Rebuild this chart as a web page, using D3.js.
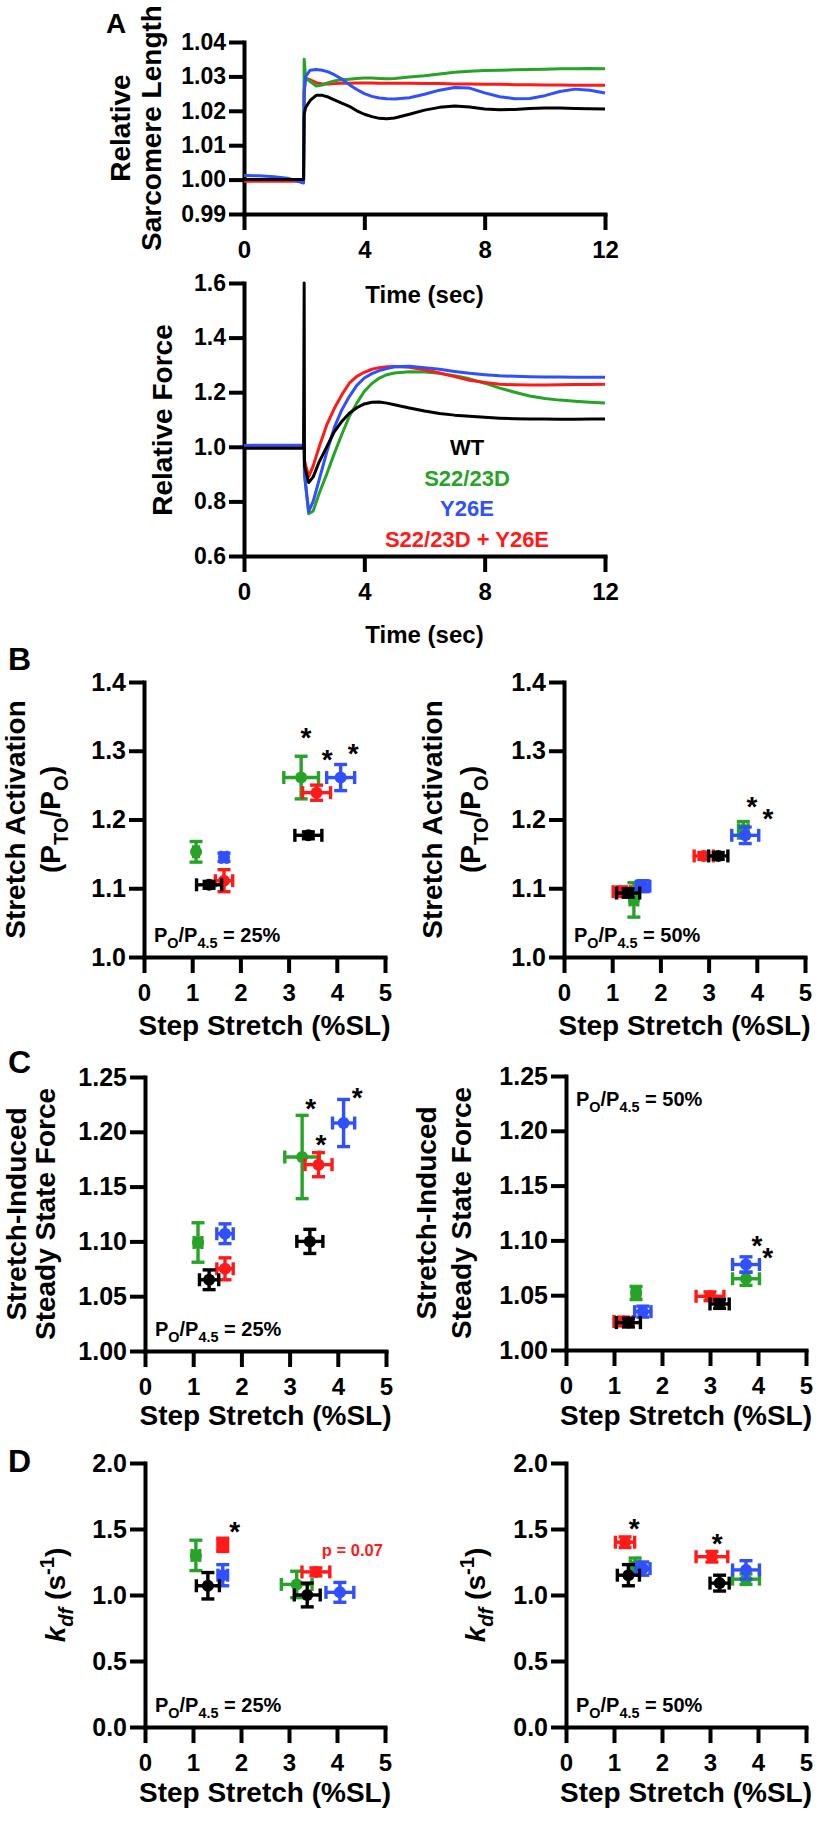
<!DOCTYPE html>
<html><head><meta charset="utf-8">
<script src="https://cdn.jsdelivr.net/npm/d3@7"></script>
<style>
body{margin:0;background:#fff;}
svg{display:block;}
</style></head><body>
<svg id="fig" width="819" height="1836"></svg>
<script>
// ---------------- DATA ----------------
const groups = ["WT", "S22/23D", "Y26E", "S22/23D + Y26E"];

// Panel A (top): relative sarcomere length traces
const slTime  = [0,0.5,1,1.5,1.98,2.0,2.05,2.2,2.4,2.6,2.8,3.0,3.25,3.5,3.75,4.0,4.25,4.5,4.75,5.0,5.5,6.0,6.5,7.0,7.5,8.0,8.5,9.0,9.5,10.0,10.5,11.0,11.5,12.0];
const slWT    = [1.000,1.000,1.000,1.000,1.000,1.019,1.021,1.023,1.0245,1.0245,1.024,1.0232,1.0222,1.0213,1.0200,1.0190,1.0183,1.0178,1.0177,1.0179,1.0190,1.0202,1.0210,1.0214,1.0211,1.0205,1.0203,1.0204,1.0207,1.0208,1.0208,1.0207,1.0206,1.0205];
const slS2223D= [1.000,1.000,1.000,1.000,1.000,1.035,1.0295,1.0285,1.0272,1.0275,1.0282,1.0287,1.0290,1.0292,1.0294,1.0295,1.0295,1.0294,1.0293,1.0294,1.0298,1.0302,1.0307,1.0312,1.0315,1.0317,1.0318,1.0319,1.0320,1.0321,1.0322,1.0322,1.0323,1.0322];
const slY26E  = [1.0012,1.0011,1.0008,1.0003,0.9990,1.025,1.030,1.0318,1.0320,1.0318,1.0313,1.0305,1.0292,1.0276,1.0262,1.0250,1.0242,1.0237,1.0235,1.0234,1.0238,1.0248,1.0260,1.0268,1.0266,1.0252,1.0241,1.0235,1.0236,1.0244,1.0256,1.0263,1.0260,1.0252];
const slCombo = [0.9995,0.9995,0.9995,0.9995,0.9995,1.026,1.0295,1.0290,1.0282,1.0278,1.0278,1.0279,1.0280,1.0280,1.0281,1.0281,1.0281,1.0280,1.0280,1.0280,1.0280,1.0279,1.0279,1.0278,1.0278,1.0277,1.0277,1.0276,1.0276,1.0275,1.0275,1.0274,1.0274,1.0274];

// Panel A (bottom): relative force traces
const fTime   = [0,0.5,1,1.5,1.98,2.0,2.01,2.15,2.3,2.5,2.75,3.0,3.25,3.5,3.75,4.0,4.25,4.5,4.75,5.0,5.5,6.0,6.5,7.0,7.5,8.0,8.5,9.0,9.5,10.0,10.5,11.0,11.5,12.0];
const fWT     = [0.995,0.995,0.995,0.995,0.995,1.6,0.93,0.869,0.89,0.945,1.0,1.055,1.093,1.123,1.143,1.157,1.163,1.164,1.16,1.154,1.142,1.131,1.122,1.116,1.112,1.108,1.105,1.103,1.102,1.102,1.101,1.101,1.102,1.102];
const fS2223D = [0.998,0.998,0.998,0.998,0.998,0.99,0.9,0.755,0.765,0.83,0.9,0.975,1.045,1.111,1.16,1.203,1.232,1.252,1.264,1.27,1.275,1.274,1.269,1.26,1.249,1.233,1.215,1.2,1.186,1.177,1.171,1.167,1.163,1.16];
const fY26E   = [1.005,1.006,1.006,1.006,1.006,1.0,0.9,0.763,0.8,0.88,0.98,1.07,1.135,1.184,1.225,1.252,1.268,1.279,1.287,1.293,1.295,1.29,1.284,1.276,1.269,1.264,1.26,1.258,1.257,1.256,1.256,1.255,1.255,1.255];
const fCombo  = [0.997,0.997,0.997,0.997,0.997,0.99,0.95,0.891,0.93,1.0,1.08,1.14,1.19,1.233,1.258,1.273,1.284,1.29,1.293,1.294,1.291,1.282,1.27,1.257,1.244,1.236,1.229,1.227,1.226,1.226,1.227,1.228,1.228,1.229];

const timeTicks = [0,4,8,12];
const slTicks = [0.99,1.00,1.01,1.02,1.03,1.04];
const forceTicks = [0.6,0.8,1.0,1.2,1.4,1.6];
const stretchTicks = [0,1,2,3,4,5];
const saTicks = [1.0,1.1,1.2,1.3,1.4];
const ssfTicks = [1.00,1.05,1.10,1.15,1.20,1.25];
const kdfTicks = [0.0,0.5,1.0,1.5,2.0];

// Panel B: stretch activation (mean, SEM)
const saP25 = [
  {g:"WT", x:1.35, xe:0.26, y:1.105, ye:0.005},
  {g:"WT", x:3.41, xe:0.28, y:1.177, ye:0.005},
  {g:"S22/23D", x:1.08, xe:0.05, y:1.153, ye:0.015},
  {g:"S22/23D", x:3.26, xe:0.36, y:1.261, ye:0.031},
  {g:"Y26E", x:1.66, xe:0.06, y:1.145, ye:0.006},
  {g:"Y26E", x:4.08, xe:0.29, y:1.261, ye:0.019},
  {g:"S22/23D + Y26E", x:1.66, xe:0.18, y:1.111, ye:0.016},
  {g:"S22/23D + Y26E", x:3.58, xe:0.29, y:1.239, ye:0.011}
];
const saP50 = [
  {g:"WT", x:1.33, xe:0.24, y:1.093, ye:0.006},
  {g:"WT", x:3.2, xe:0.2, y:1.147, ye:0.005},
  {g:"S22/23D", x:1.45, xe:0.08, y:1.083, ye:0.025},
  {g:"S22/23D", x:3.72, xe:0.1, y:1.185, ye:0.012},
  {g:"Y26E", x:1.64, xe:0.14, y:1.103, ye:0.008},
  {g:"Y26E", x:3.76, xe:0.28, y:1.177, ye:0.012},
  {g:"S22/23D + Y26E", x:1.2, xe:0.18, y:1.095, ye:0.007},
  {g:"S22/23D + Y26E", x:2.9, xe:0.2, y:1.147, ye:0.005}
];
// Panel C: stretch-induced steady state force
const ssfP25 = [
  {g:"WT", x:1.33, xe:0.2, y:1.065, ye:0.009},
  {g:"WT", x:3.42, xe:0.27, y:1.100, ye:0.011},
  {g:"S22/23D", x:1.1, xe:0.08, y:1.099, ye:0.018},
  {g:"S22/23D", x:3.26, xe:0.36, y:1.177, ye:0.038},
  {g:"Y26E", x:1.66, xe:0.17, y:1.107, ye:0.009},
  {g:"Y26E", x:4.12, xe:0.23, y:1.208, ye:0.0215},
  {g:"S22/23D + Y26E", x:1.66, xe:0.17, y:1.075, ye:0.01},
  {g:"S22/23D + Y26E", x:3.6, xe:0.28, y:1.170, ye:0.011}
];
const ssfP50 = [
  {g:"WT", x:1.3, xe:0.25, y:1.025, ye:0.004},
  {g:"WT", x:3.2, xe:0.2, y:1.042, ye:0.004},
  {g:"S22/23D", x:1.46, xe:0.08, y:1.052, ye:0.006},
  {g:"S22/23D", x:3.75, xe:0.28, y:1.065, ye:0.006},
  {g:"Y26E", x:1.6, xe:0.17, y:1.035, ye:0.005},
  {g:"Y26E", x:3.75, xe:0.28, y:1.078, ye:0.007},
  {g:"S22/23D + Y26E", x:1.2, xe:0.2, y:1.026, ye:0.004},
  {g:"S22/23D + Y26E", x:3.0, xe:0.29, y:1.049, ye:0.004}
];
// Panel D: kdf (s^-1)
const kdfP25 = [
  {g:"WT", x:1.31, xe:0.24, y:1.07, ye:0.1},
  {g:"WT", x:3.38, xe:0.27, y:1.0, ye:0.09},
  {g:"S22/23D", x:1.06, xe:0.08, y:1.3, ye:0.115},
  {g:"S22/23D", x:3.16, xe:0.32, y:1.08, ye:0.1},
  {g:"Y26E", x:1.62, xe:0.1, y:1.15, ye:0.08},
  {g:"Y26E", x:4.06, xe:0.29, y:1.02, ye:0.075},
  {g:"S22/23D + Y26E", x:1.62, xe:0.1, y:1.38, ye:0.05},
  {g:"S22/23D + Y26E", x:3.56, xe:0.29, y:1.175, ye:0.03}
];
const kdfP50 = [
  {g:"WT", x:1.3, xe:0.23, y:1.15, ye:0.08},
  {g:"WT", x:3.2, xe:0.2, y:1.09, ye:0.06},
  {g:"S22/23D", x:1.44, xe:0.1, y:1.22, ye:0.06},
  {g:"S22/23D", x:3.75, xe:0.28, y:1.12, ye:0.04},
  {g:"Y26E", x:1.6, xe:0.15, y:1.2, ye:0.05},
  {g:"Y26E", x:3.75, xe:0.28, y:1.19, ye:0.07},
  {g:"S22/23D + Y26E", x:1.23, xe:0.2, y:1.4, ye:0.04},
  {g:"S22/23D + Y26E", x:3.04, xe:0.33, y:1.29, ye:0.04}
];
// significance marks (data coordinates)
const starsSA25 = [[3.36,1.328],[3.8,1.297],[4.34,1.305]];
const starsSA50 = [[3.9,1.229],[4.23,1.211]];
const starsSSF25 = [[3.44,1.227],[3.65,1.194],[4.4,1.237]];
const starsSSF50 = [[3.98,1.101],[4.2,1.09]];
const starsKDF25 = [[1.87,1.53]];
const starsKDF50 = [[1.42,1.55],[3.15,1.44]];
const pNote = {text:"p = 0.07", x:4.32, y:1.34};

// ---------------- DRAWING ----------------
const FONT = "'Liberation Sans', Arial, Helvetica, sans-serif";
const COLOR = {"WT":"#000000","S22/23D":"#27a327","Y26E":"#3050ff","S22/23D + Y26E":"#ff1a1a"};
const ORDER = ["S22/23D","S22/23D + Y26E","Y26E","WT"];
const svg = d3.select("#fig").attr("font-family", FONT).attr("font-weight","bold");

function rich(t, parts, size) {
  let shift = 0;
  parts.forEach(([s, kind]) => {
    const ts = t.append("tspan").text(s);
    let target = 0, fs = size, it = false;
    if (kind === "sub") { target = size*0.3; fs = size*0.72; }
    if (kind === "sup") { target = -size*0.4; fs = size*0.72; }
    if (kind === "i") it = true;
    if (kind === "isub") { target = size*0.3; fs = size*0.72; it = true; }
    ts.attr("dy", target - shift).attr("font-size", fs);
    if (it) ts.attr("font-style","italic");
    shift = target;
  });
}

function axes(x, y, o) {
  const gx = svg.append("g").attr("transform", `translate(0,${y.range()[0]})`)
    .call(d3.axisBottom(x).tickValues(o.xt).tickFormat(d3.format("d")).tickSize(16).tickSizeOuter(0).tickPadding(11));
  const gy = svg.append("g").attr("transform", `translate(${x.range()[0]},0)`)
    .call(d3.axisLeft(y).tickValues(o.yt).tickFormat(d3.format(o.yf)).tickSize(15).tickSizeOuter(0).tickPadding(3));
  [gx, gy].forEach(a => {
    a.attr("font-family", FONT).attr("font-weight","bold");
    a.select(".domain").attr("stroke","#000").attr("stroke-width",4).attr("stroke-linecap","square");
    a.selectAll(".tick line").attr("stroke","#000").attr("stroke-width",4);
    a.selectAll(".tick text").attr("fill","#000");
  });
  gx.attr("font-size", o.xfs);
  gy.attr("font-size", o.yfs);
}

function xTitle(x, base, text, fs) {
  svg.append("text").attr("x", d3.mean(x.range())).attr("y", base)
    .attr("text-anchor","middle").attr("font-size", fs).text(text);
}
function yTitle(cx, cy, parts, fs) {
  const t = svg.append("text").attr("transform", `translate(${cx},${cy}) rotate(-90)`)
    .attr("text-anchor","middle").attr("dy","0.36em").attr("font-size", fs);
  rich(t, parts, fs);
}
function panelLetter(txt, x, y, fs) {
  svg.append("text").attr("x", x).attr("y", y).attr("font-size", fs).text(txt);
}

// ---- Panel A ----
function tracePanel(time, series, x, y) {
  const line = d3.line().x((d,i) => x(time[i])).y(d => y(d));
  series.forEach(([vals, g]) => {
    svg.append("path").attr("d", line(vals)).attr("fill","none")
      .attr("stroke", COLOR[g]).attr("stroke-width", 3).attr("stroke-linejoin","round");
  });
}

const xA1 = d3.scaleLinear().domain([0,12]).range([244,605]);
const yA1 = d3.scaleLinear().domain([0.99,1.04]).range([214,42]);
axes(xA1, yA1, {xt:timeTicks, yt:slTicks, yf:".2f", xfs:24, yfs:23});
tracePanel(slTime, [[slCombo,"S22/23D + Y26E"],[slS2223D,"S22/23D"],[slY26E,"Y26E"],[slWT,"WT"]], xA1, yA1);
xTitle(xA1, 303, "Time (sec)", 24);
yTitle(130, 128, [["Relative","n"]], 28);
yTitle(161, 128, [["Sarcomere Length","n"]], 28);
panelLetter("A", 106, 33, 28);

const xA2 = d3.scaleLinear().domain([0,12]).range([244,605]);
const yA2 = d3.scaleLinear().domain([0.6,1.6]).range([556,283]);
axes(xA2, yA2, {xt:timeTicks, yt:forceTicks, yf:".1f", xfs:24, yfs:23});
tracePanel(fTime, [[fS2223D,"S22/23D"],[fCombo,"S22/23D + Y26E"],[fY26E,"Y26E"],[fWT,"WT"]], xA2, yA2);
xTitle(xA2, 643, "Time (sec)", 24);
yTitle(172, 420, [["Relative Force","n"]], 28);
// legend
groups.forEach((g,i) => {
  svg.append("text").attr("x", 467).attr("y", 455 + i*30.6).attr("text-anchor","middle")
    .attr("font-size", 22).attr("fill", COLOR[g]).text(g);
});

// ---- Scatter panels ----
function scatter(data, stars, x, y) {
  const cap = 6.5, sw = 3.4;
  ORDER.forEach(g => {
    data.filter(d => d.g === g).forEach(d => {
      const c = COLOR[g];
      const gg = svg.append("g").attr("stroke", c).attr("stroke-width", sw).attr("fill","none");
      const x0 = x(d.x - d.xe), x1 = x(d.x + d.xe), cy = y(d.y);
      const y0 = y(d.y - d.ye), y1 = y(d.y + d.ye), cx = x(d.x);
      gg.append("line").attr("x1", x0).attr("x2", x1).attr("y1", cy).attr("y2", cy);
      gg.append("line").attr("x1", x0).attr("x2", x0).attr("y1", cy-cap).attr("y2", cy+cap);
      gg.append("line").attr("x1", x1).attr("x2", x1).attr("y1", cy-cap).attr("y2", cy+cap);
      gg.append("line").attr("x1", cx).attr("x2", cx).attr("y1", y0).attr("y2", y1);
      gg.append("line").attr("x1", cx-cap).attr("x2", cx+cap).attr("y1", y0).attr("y2", y0);
      gg.append("line").attr("x1", cx-cap).attr("x2", cx+cap).attr("y1", y1).attr("y2", y1);
      svg.append("circle").attr("cx", cx).attr("cy", cy).attr("r", 6).attr("fill", c);
    });
  });
  stars.forEach(([sx, sy]) => {
    svg.append("text").attr("x", x(sx)).attr("y", y(sy)).attr("dy","0.57em")
      .attr("text-anchor","middle").attr("font-size", 28).text("*");
  });
}
function poNote(x0, base, pct) {
  const t = svg.append("text").attr("x", x0).attr("y", base).attr("font-size", 20);
  rich(t, [["P","n"],["O","sub"],["/P","n"],["4.5","sub"],[" = " + pct,"n"]], 20);
}

const panels = [
  {data:saP25, stars:starsSA25, xr:[144,385], yr:[957,682], yd:[1.0,1.4], yt:saTicks, yf:".1f", note:"25%", noteTop:false,
   ylab:[[[["Stretch Activation","n"]],119],[[["(P","n"],["TO","sub"],["/P","n"],["O","sub"],[")","n"]],84]], xbase:1035},
  {data:saP50, stars:starsSA50, xr:[564,805], yr:[957,682], yd:[1.0,1.4], yt:saTicks, yf:".1f", note:"50%", noteTop:false,
   ylab:[[[["Stretch Activation","n"]],122],[[["(P","n"],["TO","sub"],["/P","n"],["O","sub"],[")","n"]],84]], xbase:1035},
  {data:ssfP25, stars:starsSSF25, xr:[145,386], yr:[1351,1077], yd:[1.0,1.25], yt:ssfTicks, yf:".2f", note:"25%", noteTop:false,
   ylab:[[[["Stretch-Induced","n"]],119],[[["Steady State Force","n"]],90]], xbase:1425},
  {data:ssfP50, stars:starsSSF50, xr:[566,806], yr:[1350,1076], yd:[1.0,1.25], yt:ssfTicks, yf:".2f", note:"50%", noteTop:true,
   ylab:[[[["Stretch-Induced","n"]],130],[[["Steady State Force","n"]],95]], xbase:1425},
  {data:kdfP25, stars:starsKDF25, xr:[145,385], yr:[1727,1463], yd:[0,2], yt:kdfTicks, yf:".1f", note:"25%", noteTop:false,
   ylab:[[[["k","i"],["df","isub"],[" (s","n"],["-1","sup"],[")","n"]],80]], xbase:1802, p:true},
  {data:kdfP50, stars:starsKDF50, xr:[566,806], yr:[1727,1463], yd:[0,2], yt:kdfTicks, yf:".1f", note:"50%", noteTop:false,
   ylab:[[[["k","i"],["df","isub"],[" (s","n"],["-1","sup"],[")","n"]],81]], xbase:1802}
];
panels.forEach(p => {
  const x = d3.scaleLinear().domain([0,5]).range(p.xr);
  const y = d3.scaleLinear().domain(p.yd).range(p.yr);
  axes(x, y, {xt:stretchTicks, yt:p.yt, yf:p.yf, xfs:24, yfs:25});
  scatter(p.data, p.stars, x, y);
  xTitle(x, p.xbase, "Step Stretch (%SL)", 28);
  const cy = d3.mean(p.yr);
  p.ylab.forEach(([parts, off]) => yTitle(p.xr[0] - off, cy, parts, 28));
  poNote(p.xr[0] + 10, p.noteTop ? p.yr[1] + 30 : p.yr[0] - 15, p.note);
  if (p.p) {
    svg.append("text").attr("x", x(pNote.x)).attr("y", y(pNote.y)).attr("dy","0.35em")
      .attr("text-anchor","middle").attr("font-size", 16.5).attr("fill", COLOR["S22/23D + Y26E"]).text(pNote.text);
  }
});
panelLetter("B", 8, 670, 32);
panelLetter("C", 8, 1073, 32);
panelLetter("D", 8, 1472, 32);
</script>
</body></html>
